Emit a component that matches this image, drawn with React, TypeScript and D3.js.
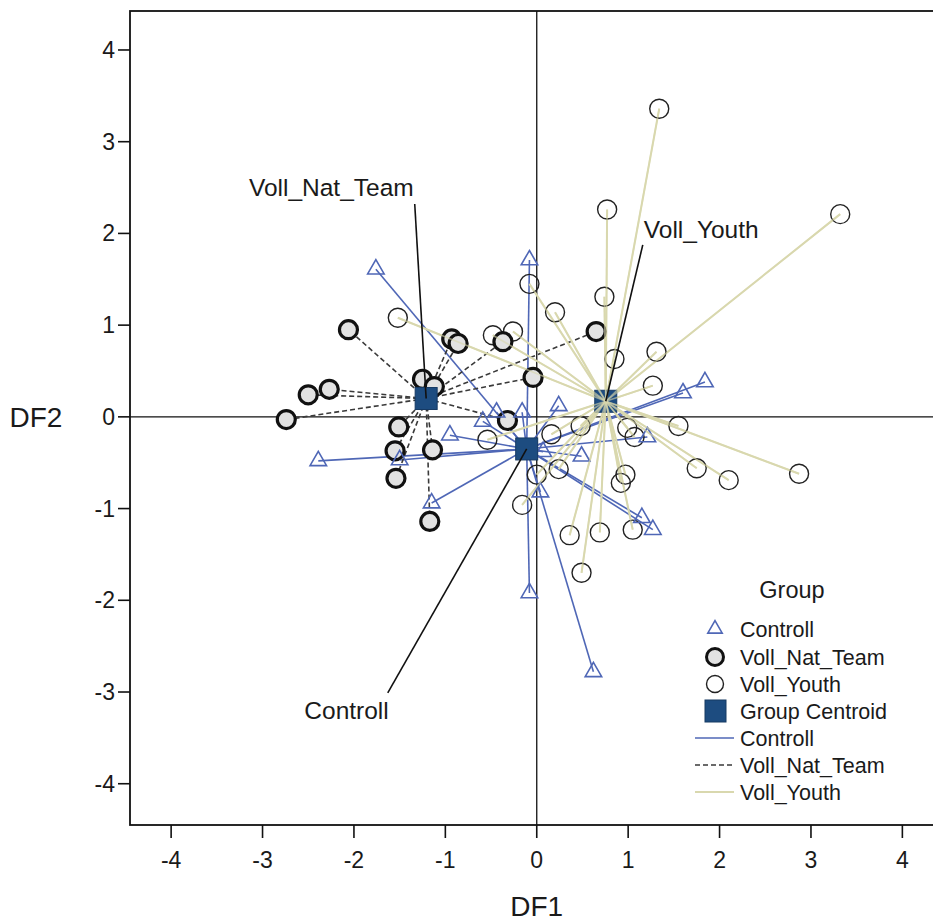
import React from 'react';
import * as d3 from 'd3';

// discriminant scores: [DF1, DF2]
const controllPoints: [number, number][] = [
  [-1.76, 1.61], [-0.08, 1.71], [-2.39, -0.48], [-1.5, -0.47], [-1.15, -0.94],
  [-0.95, -0.2], [-0.59, -0.05], [-0.44, 0.05], [-0.16, 0.05], [0.24, 0.12],
  [0.49, -0.43], [1.6, 0.26], [1.84, 0.38], [1.21, -0.22], [0.04, -0.82],
  [-0.08, -1.92], [0.62, -2.78], [1.15, -1.1], [1.27, -1.23], [0.07, -0.38],
];

const natTeamPoints: [number, number][] = [
  [-2.06, 0.95], [-2.5, 0.24], [-2.27, 0.3], [-2.74, -0.03], [-1.25, 0.41],
  [-1.12, 0.33], [-0.93, 0.85], [-0.86, 0.8], [-0.37, 0.82], [-0.04, 0.43],
  [-0.32, -0.04], [0.65, 0.93], [-1.51, -0.11], [-1.55, -0.37], [-1.54, -0.67],
  [-1.14, -0.36], [-1.17, -1.14],
];

const youthPoints: [number, number][] = [
  [1.34, 3.36], [3.32, 2.21], [0.77, 2.26], [0.74, 1.31], [-0.08, 1.45],
  [0.2, 1.14], [-1.52, 1.08], [-0.48, 0.89], [-0.26, 0.93], [0.85, 0.63],
  [1.31, 0.71], [1.27, 0.34], [1.55, -0.1], [0.48, -0.1], [0.16, -0.19],
  [0.99, -0.12], [1.07, -0.22], [1.75, -0.56], [2.1, -0.69], [2.87, -0.62],
  [0.97, -0.63], [0.92, -0.72], [0.24, -0.57], [0.0, -0.63], [-0.16, -0.96],
  [0.36, -1.29], [0.69, -1.26], [1.05, -1.23], [0.49, -1.7], [-0.54, -0.25],
];

const groupNames = ['Controll', 'Voll_Nat_Team', 'Voll_Youth'];
const centroids: [number, number][] = [[-0.11, -0.35], [-1.21, 0.2], [0.755, 0.17]];
// where each centroid label sits (start of its leader line)
const labelAnchors: [number, number][] = [[-1.63, -3.01], [-1.335, 2.32], [1.16, 1.875]];

const xTicks = [-4, -3, -2, -1, 0, 1, 2, 3, 4];
const yTicks = [-4, -3, -2, -1, 0, 1, 2, 3, 4];

const FONT = 'Liberation Sans, Arial, sans-serif';
const BLUE = '#4f67b6';
const BEIGE = '#d9d8ae';
const NAVY = '#1d4c80';

const W = 933;
const H = 924;
const left = 130, top = 11, bottom = 825;

const x = d3.scaleLinear().domain([-4.45, 4.45]).range([left, 943.5]);
const y = d3.scaleLinear().domain([-4.45, 4.425]).range([bottom, top]);

const tri = d3.symbol().type(d3.symbolTriangle).size(118)() as string;

const App = () => {
  const groups = [controllPoints, natTeamPoints, youthPoints];
  const lineStyle = [
    { stroke: BLUE, width: 1.6, dash: undefined },
    { stroke: '#3a3a3a', width: 1.6, dash: '5,3' },
    { stroke: BEIGE, width: 2, dash: undefined },
  ];

  const labelOffsets = [
    { anchor: 'end', dx: 1, dy: 26 },
    { anchor: 'end', dx: -1, dy: -8 },
    { anchor: 'start', dx: 1, dy: -7 },
  ];

  const legendX = 715;
  const legendRows = [629, 657, 684, 711, 738, 765, 792];

  return (
    <svg width={W} height={H} style={{ position: 'absolute', left: 0, top: 0, background: '#fff' }} fontFamily={FONT}>
      <defs>
        <clipPath id="plot">
          <rect x={left} y={top} width={W - left} height={bottom - top} />
        </clipPath>
      </defs>
      <rect width={W} height={H} fill="#fff" />

      {/* frame */}
      <rect x={left} y={top} width={x(4.45) - left} height={bottom - top} fill="none" stroke="#111" strokeWidth={1.8} />

      {/* reference lines */}
      <line x1={x(0)} x2={x(0)} y1={top} y2={bottom} stroke="#111" strokeWidth={1.3} />
      <line x1={left} x2={W} y1={y(0)} y2={y(0)} stroke="#111" strokeWidth={1.3} />

      {/* axes */}
      {xTicks.map(t => (
        <g key={'x' + t}>
          <line x1={x(t)} x2={x(t)} y1={bottom} y2={bottom + 13} stroke="#111" strokeWidth={1.6} />
          <text x={x(t)} y={bottom + 43} textAnchor="middle" fontSize={23} fill="#1a1a1a">{t}</text>
        </g>
      ))}
      {yTicks.map(t => (
        <g key={'y' + t}>
          <line x1={left - 12} x2={left} y1={y(t)} y2={y(t)} stroke="#111" strokeWidth={1.6} />
          <text x={left - 15} y={y(t) + 8} textAnchor="end" fontSize={23} fill="#1a1a1a">{t}</text>
        </g>
      ))}
      <text x={x(0)} y={916} textAnchor="middle" fontSize={28} fill="#1a1a1a">DF1</text>
      <text x={36} y={427} textAnchor="middle" fontSize={28} fill="#1a1a1a">DF2</text>

      <g clipPath="url(#plot)">
        {/* lines from points to their group centroid */}
        {groups.map((pts, gi) => (
          <g key={'l' + gi}>
            {pts.map((p, i) => (
              <line key={i} x1={x(centroids[gi][0])} y1={y(centroids[gi][1])} x2={x(p[0])} y2={y(p[1])}
                stroke={lineStyle[gi].stroke} strokeWidth={lineStyle[gi].width} strokeDasharray={lineStyle[gi].dash} />
            ))}
          </g>
        ))}

        {/* markers */}
        {youthPoints.map((p, i) => (
          <circle key={'y' + i} cx={x(p[0])} cy={y(p[1])} r={9.5} fill="none" stroke="#222" strokeWidth={1.4} />
        ))}
        {natTeamPoints.map((p, i) => (
          <circle key={'n' + i} cx={x(p[0])} cy={y(p[1])} r={9} fill="#e2e2e2" stroke="#111" strokeWidth={3.2} />
        ))}
        {controllPoints.map((p, i) => (
          <path key={'c' + i} d={tri} transform={`translate(${x(p[0])},${y(p[1])})`} fill="none" stroke={BLUE} strokeWidth={1.6} />
        ))}

        {/* centroids */}
        {centroids.map((c, i) => (
          <rect key={'g' + i} x={x(c[0]) - 11} y={y(c[1]) - 11} width={22} height={22} fill={NAVY} stroke="#163a63" strokeWidth={1} />
        ))}
        {youthPoints.map((p, i) => (
          <line key={'yo' + i} x1={x(centroids[2][0])} y1={y(centroids[2][1])} x2={x(p[0])} y2={y(p[1])}
            stroke={BEIGE} strokeWidth={1.6} opacity={0.6} />
        ))}

        {/* centroid labels */}
        {groupNames.map((name, i) => (
          <g key={'lab' + i}>
            <line x1={x(labelAnchors[i][0])} y1={y(labelAnchors[i][1])} x2={x(centroids[i][0])} y2={y(centroids[i][1])}
              stroke="#111" strokeWidth={1.6} />
            <text x={x(labelAnchors[i][0]) + labelOffsets[i].dx} y={y(labelAnchors[i][1]) + labelOffsets[i].dy}
              textAnchor={labelOffsets[i].anchor as any} fontSize={24.5} fill="#1a1a1a">{name}</text>
          </g>
        ))}
      </g>

      {/* legend */}
      <g fontSize={21.5} fill="#1a1a1a">
        <text x={792} y={598} textAnchor="middle" fontSize={23.5}>Group</text>
        <path d={d3.symbol().type(d3.symbolTriangle).size(90)() as string} transform={`translate(${legendX},${legendRows[0]})`} fill="none" stroke={BLUE} strokeWidth={1.6} />
        <circle cx={legendX} cy={legendRows[1]} r={8.5} fill="#e2e2e2" stroke="#111" strokeWidth={3} />
        <circle cx={legendX} cy={legendRows[2]} r={8.5} fill="none" stroke="#222" strokeWidth={1.4} />
        <rect x={legendX - 10} y={legendRows[3] - 11} width={21} height={22} fill={NAVY} stroke="#163a63" />
        <line x1={695} x2={734} y1={legendRows[4]} y2={legendRows[4]} stroke={BLUE} strokeWidth={1.6} />
        <line x1={695} x2={734} y1={legendRows[5]} y2={legendRows[5]} stroke="#3a3a3a" strokeWidth={1.6} strokeDasharray="5,3" />
        <line x1={695} x2={734} y1={legendRows[6]} y2={legendRows[6]} stroke={BEIGE} strokeWidth={2} />
        {['Controll', 'Voll_Nat_Team', 'Voll_Youth', 'Group Centroid', 'Controll', 'Voll_Nat_Team', 'Voll_Youth'].map((t, i) => (
          <text key={'lg' + i} x={740} y={legendRows[i] + 7.5}>{t}</text>
        ))}
      </g>
    </svg>
  );
};

export default App;
